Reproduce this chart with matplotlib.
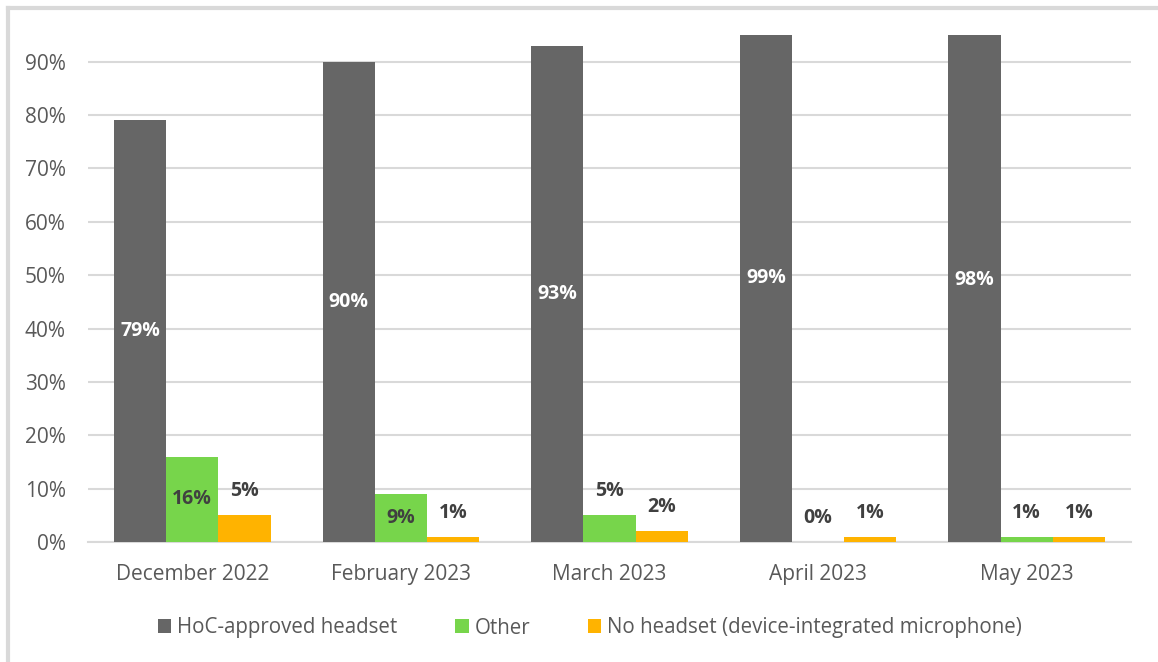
import matplotlib.pyplot as plt
import matplotlib.ticker as mticker
import numpy as np
from matplotlib.lines import Line2D

months = ["December 2022", "February 2023", "March 2023", "April 2023", "May 2023"]
hoc = [79, 90, 93, 99, 98]
other = [16, 9, 5, 0, 1]
no_headset = [5, 1, 2, 1, 1]

series = [
    ("HoC-approved headset", hoc, "#666666"),
    ("Other", other, "#77D54B"),
    ("No headset (device-integrated microphone)", no_headset, "#FFB300"),
]

plt.rcParams["font.family"] = ["Open Sans", "DejaVu Sans"]
TEXT = "#595959"
GRID = "#D9D9D9"

fig = plt.figure(figsize=(11.58, 6.62), dpi=100)
ax = fig.add_axes([88 / 1158, 1 - 542 / 662, (1131 - 88) / 1158, (542 - 35) / 662])

x = np.arange(len(months))
w = 0.25
for i, (name, vals, col) in enumerate(series):
    pos = x + (i - 1) * w
    ax.bar(pos, vals, w, color=col, label=name, zorder=3)
    for xp, v in zip(pos, vals):
        if i == 0:
            ax.text(xp, v / 2, f"{v}%", ha="center", va="center", color="white",
                    fontsize=14, fontweight="bold", zorder=4)
        elif v >= 8:
            ax.text(xp, v / 2, f"{v}%", ha="center", va="center", color="#404040",
                    fontsize=14, fontweight="bold", zorder=4)
        else:
            ax.text(xp, v + 4.5, f"{v}%", ha="center", va="center", color="#404040",
                    fontsize=14, fontweight="bold", zorder=4)

ax.set_xlim(-0.5, len(months) - 0.5)
ax.set_ylim(0, 95)
ax.set_yticks(np.arange(0, 91, 10))
ax.yaxis.set_major_formatter(mticker.FormatStrFormatter("%d%%"))
ax.set_xticks(x)
ax.set_xticklabels(months)
ax.tick_params(axis="both", length=0, labelsize=15, labelcolor=TEXT)
ax.tick_params(axis="y", pad=16)
ax.tick_params(axis="x", pad=16)
ax.grid(axis="y", color=GRID, lw=1.5, zorder=0)
for s in ["top", "right", "left"]:
    ax.spines[s].set_visible(False)
ax.spines["bottom"].set_color(GRID)
ax.spines["bottom"].set_linewidth(1.5)

ax.legend(loc="center", bbox_to_anchor=(590 / 1158, 1 - 628 / 662), bbox_transform=fig.transFigure,
          ncol=3, frameon=False, fontsize=14.8, labelcolor=TEXT, handlelength=0.65,
          handleheight=0.65, handletextpad=0.3, columnspacing=2.8)

# outer chart frame (left and top edges visible)
fig.add_artist(Line2D([8 / 1158, 8 / 1158], [0, 1 - 8 / 662], transform=fig.transFigure,
                      color=GRID, lw=3))
fig.add_artist(Line2D([8 / 1158, 1], [1 - 8 / 662, 1 - 8 / 662], transform=fig.transFigure,
                      color=GRID, lw=3))

fig.savefig("out.png", dpi=100)
